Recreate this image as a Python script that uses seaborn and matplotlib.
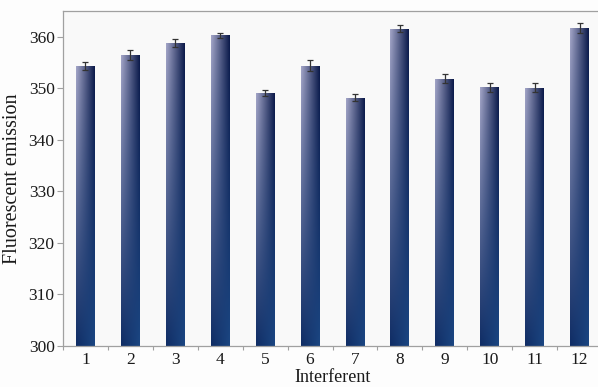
import numpy as np
import pandas as pd
import matplotlib
matplotlib.use("Agg")
import matplotlib.pyplot as plt
import seaborn as sns
from matplotlib.colors import to_rgb

# === datos
interferentes = ["1", "2", "3", "4", "5", "6", "7", "8", "9", "10", "11", "12"]
emision = [354.4, 356.5, 358.8, 360.3, 349.1, 354.4, 348.2, 361.6, 351.9, 350.2, 350.1, 361.7]
error = [0.8, 1.0, 0.8, 0.45, 0.65, 1.0, 0.6, 0.75, 0.8, 0.85, 0.85, 0.9]

df = pd.DataFrame({"Interferent": interferentes, "emision": emision, "error": error})

sns.set_style("white")
plt.rcParams["font.family"] = ["Liberation Serif", "DejaVu Serif"]

fig = plt.figure(figsize=(5.98, 3.87), dpi=100, facecolor="#fdfdfd")
ax = fig.add_axes([63 / 598, 41 / 387, 539 / 598, 335 / 387])
ax.set_facecolor("#f9f9f9")

sns.barplot(data=df, x="Interferent", y="emision", order=interferentes,
            width=0.42, errorbar=None, color="#0c1a4c", ax=ax, zorder=2)

# gradiente 2D: arriba lavanda -> azul marino, abajo azul oscuro
top_l, top_r = np.array(to_rgb("#a4a6c8")), np.array(to_rgb("#0a1848"))
bot_l, bot_r = np.array(to_rgb("#0f2c64")), np.array(to_rgb("#1b4682"))
s = np.linspace(0, 1, 64)[None, :, None]
t = np.linspace(0, 1, 128)[:, None, None]
fila_top = top_l + (top_r - top_l) * s
fila_bot = bot_l + (bot_r - bot_l) * s
grad = fila_top * (1 - t) + fila_bot * t

for p in ax.patches:
    x0, y0 = p.get_x(), 300
    x1, y1 = x0 + p.get_width(), p.get_y() + p.get_height()
    p.set_facecolor("none")
    p.set_edgecolor("none")
    im = ax.imshow(grad, extent=[x0, x1, y0, y1], origin="upper",
                   aspect="auto", zorder=2, interpolation="bilinear")
    im.set_clip_path(p)

ax.errorbar(np.arange(len(interferentes)), emision, yerr=error, fmt="none",
            ecolor="#333333", elinewidth=0.9, capsize=2.2, capthick=0.9, zorder=3)

ax.set_xlim(-0.5, len(interferentes) - 0.5)
ax.set_ylim(300, 365)
ax.set_yticks(range(300, 361, 10))
ax.set_xticks(np.arange(len(interferentes)))
ax.set_xticklabels(interferentes)
ax.set_xticks(np.arange(len(interferentes)) - 0.5, minor=True)

for lado in ["left", "bottom", "top"]:
    ax.spines[lado].set_visible(True)
    ax.spines[lado].set_color("#a0a0a0")
    ax.spines[lado].set_linewidth(0.9)
ax.spines["right"].set_visible(False)

ax.tick_params(axis="y", which="major", direction="out", length=4, width=0.8,
               color="#a0a0a0", labelsize=12.5, labelcolor="#1a1a1a", pad=2, left=True)
ax.tick_params(axis="x", which="major", length=0, labelsize=12.5, labelcolor="#1a1a1a", pad=4)
ax.tick_params(axis="x", which="minor", direction="out", length=3, width=0.8,
               color="#a0a0a0", bottom=True)

ax.set_xlabel("Interferent", fontsize=13, color="#1a1a1a", labelpad=1)
ax.set_ylabel("Fluorescent emission", fontsize=14.5, color="#1a1a1a", labelpad=5)

fig.savefig("out.png", dpi=100, facecolor=fig.get_facecolor())
